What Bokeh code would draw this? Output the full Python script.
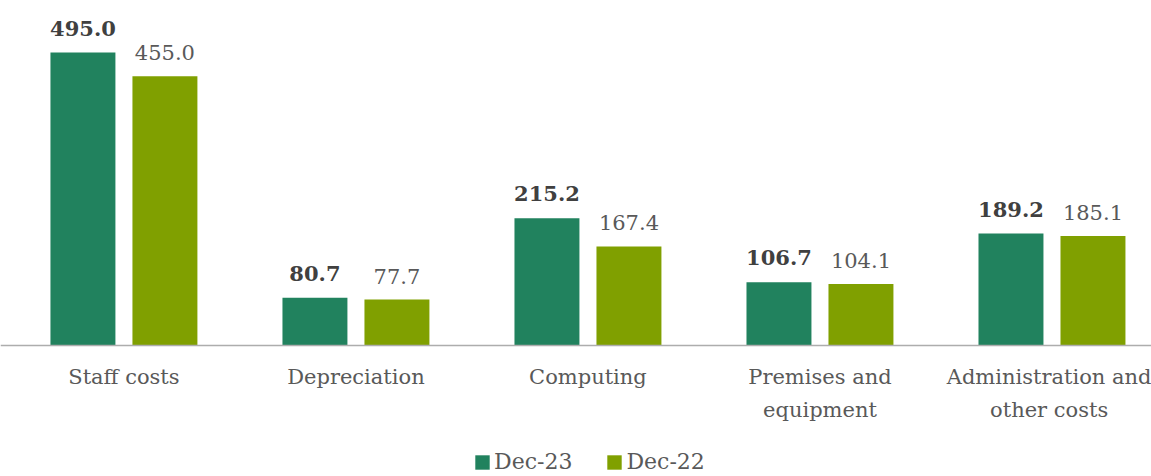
from bokeh.plotting import figure
from bokeh.models import ColumnDataSource, Range1d, FixedTicker, LabelSet, Legend, LegendItem
from bokeh.core.properties import value
from bokeh.embed import file_html
from bokeh.resources import INLINE

categories = ["Staff costs", "Depreciation", "Computing", "Premises and\nequipment", "Administration and\nother costs"]
dec23 = [495.0, 80.7, 215.2, 106.7, 189.2]
dec22 = [455.0, 77.7, 167.4, 104.1, 185.1]
series_names = ["Dec-23", "Dec-22"]

GREEN = "#21825E"
OLIVE = "#80A000"
FONT = "DejaVu Serif"

idx = list(range(len(categories)))
off = 0.1767
src23 = ColumnDataSource(dict(x=[i - off for i in idx], y=dec23, t=[f"{v:.1f}" for v in dec23]))
src22 = ColumnDataSource(dict(x=[i + off for i in idx], y=dec22, t=[f"{v:.1f}" for v in dec22]))

p = figure(frame_width=1151, frame_height=476, output_backend="svg", toolbar_location=None,
           x_range=Range1d(-0.532, 4.429), y_range=Range1d(-221.3, 582.9),
           min_border_left=0, min_border_right=0, min_border_top=0, min_border_bottom=0)
p.outline_line_color = None
p.grid.visible = False
p.yaxis.visible = False
p.background_fill_color = "white"
p.border_fill_color = "white"

r23 = p.vbar(x="x", top="y", width=0.28, source=src23, fill_color=GREEN, line_color=None)
r22 = p.vbar(x="x", top="y", width=0.28, source=src22, fill_color=OLIVE, line_color=None)

ax = p.xaxis[0]
ax.fixed_location = 0
ax.ticker = FixedTicker(ticks=idx)
ax.major_label_overrides = {i: c for i, c in zip(idx, categories)}
ax.major_tick_line_color = None
ax.minor_tick_line_color = None
ax.axis_line_color = "#ADADAD"
ax.axis_line_width = 1.5
ax.major_label_text_font = FONT
ax.major_label_text_font_size = "21px"
ax.major_label_text_line_height = 1.4
ax.major_label_text_color = "#595959"
ax.major_label_standoff = 13

lab23 = LabelSet(x="x", y="y", text="t", source=src23, y_offset=17, text_align="center",
                 text_baseline="alphabetic", text_font=value(FONT), text_font_size="21px",
                 text_font_style="bold", text_color="#404040")
lab22 = LabelSet(x="x", y="y", text="t", source=src22, y_offset=16, text_align="center",
                 text_baseline="alphabetic", text_font=value(FONT), text_font_size="21px",
                 text_color="#595959")
p.add_layout(lab23)
p.add_layout(lab22)

legend = Legend(items=[LegendItem(label=series_names[0], renderers=[r23]),
                       LegendItem(label=series_names[1], renderers=[r22])],
                orientation="horizontal", location=(473, 2),
                glyph_width=18, glyph_height=18, label_standoff=3, spacing=33,
                padding=0, margin=0, border_line_color=None, background_fill_alpha=0,
                label_text_font=FONT, label_text_font_size="22px", label_text_color="#595959")
p.add_layout(legend)

open("out.html", "w").write(file_html(p, INLINE))
